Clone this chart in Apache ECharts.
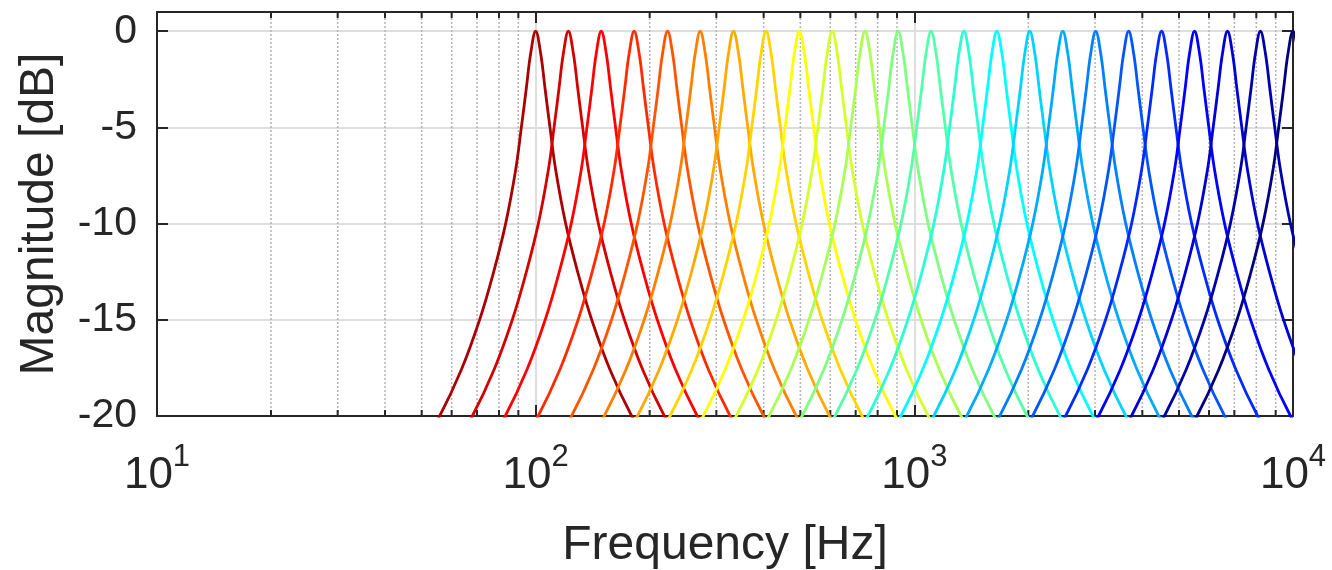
<!DOCTYPE html>
<html>
<head>
<meta charset="utf-8">
<script src="https://cdn.jsdelivr.net/npm/echarts@6/dist/echarts.min.js"></script>
<style>
html,body{margin:0;padding:0;background:#fff;}
#chart{width:1332px;height:570px;}
</style>
</head>
<body>
<div id="chart"></div>
<script>
// ---- data ----
// centre frequencies of the 24 band-pass filters [Hz]
const centerFreqs = [100, 122, 149, 182, 223, 272, 333, 406, 497, 607, 741, 906,
                     1107, 1352, 1652, 2018, 2466, 3013, 3681, 4498, 5495, 6714, 8203, 10000];
// measured filter shape: frequency ratio away from the centre -> magnitude [dB]
const profileRatio = [1, 1.0309, 1.0583, 1.0909, 1.1293, 1.2003, 1.2966, 1.4060, 1.5715, 1.7930, 2.138];
const profileDb    = [0, -1.16, -2.95, -5.0, -7.2, -10.0, -12.65, -15.0, -17.6, -20.0, -22.6];
// axis ticks
const xMajorTicks = [10, 100, 1000, 10000];
const xMinorTicks = [20, 30, 40, 50, 60, 70, 80, 90,
                     200, 300, 400, 500, 600, 700, 800, 900,
                     2000, 3000, 4000, 5000, 6000, 7000, 8000, 9000];
const yTicks = [0, -5, -10, -15, -20];
const Y_MIN = -20, Y_MAX = 1;

// ---- styles ----
const colors = ['#aa0000', '#d40000', '#ff0000', '#ff2a00', '#ff5500', '#ff8000', '#ffaa00', '#ffd400',
                '#ffff00', '#d4ff2a', '#aaff55', '#80ff80', '#55ffaa', '#2affd4', '#00ffff', '#00d4ff',
                '#00aaff', '#0080ff', '#0055ff', '#002aff', '#0000ff', '#0000d4', '#0000aa', '#000080'];
const FONT = '"Liberation Sans", Arial, Helvetica, sans-serif';
const INK = '#262626';

function curveData(fc) {
  const pts = [];
  for (let i = profileRatio.length - 1; i >= 1; i--) pts.push([fc / profileRatio[i], profileDb[i]]);
  pts.push([fc, profileDb[0]]);
  for (let i = 1; i < profileRatio.length; i++) pts.push([fc * profileRatio[i], profileDb[i]]);
  return pts;
}

const series = [];
// minor (dotted) grid lines and minor ticks on the bottom/top edges
series.push({
  type: 'custom', xAxisIndex: 0, yAxisIndex: 0, z: 1, silent: true, clip: false,
  data: xMinorTicks.map(f => [f, Y_MIN]),
  encode: {x: 0, y: 1},
  renderItem: function (params, api) {
    const f = api.value(0);
    const b = api.coord([f, Y_MIN]);
    const t = api.coord([f, Y_MAX]);
    return {type: 'group', children: [
      {type: 'line', shape: {x1: b[0], y1: b[1], x2: t[0], y2: t[1]},
       style: {stroke: '#b4b4b4', lineWidth: 1.5, lineDash: [2, 2]}},
      {type: 'line', shape: {x1: b[0], y1: b[1], x2: b[0], y2: b[1] - 6},
       style: {stroke: INK, lineWidth: 2}},
      {type: 'line', shape: {x1: t[0], y1: t[1], x2: t[0], y2: t[1] + 6},
       style: {stroke: INK, lineWidth: 2}}
    ]};
  }
});
centerFreqs.forEach((fc, i) => {
  series.push({
    type: 'line', name: String(fc), data: curveData(fc), z: 2,
    showSymbol: false, smooth: 0.4, clip: true,
    lineStyle: {color: colors[i], width: 2.8}, itemStyle: {color: colors[i]},
    silent: true
  });
});

const axisLine = {show: true, onZero: false, lineStyle: {color: INK, width: 2}};
const option = {
  animation: false,
  backgroundColor: '#ffffff',
  textStyle: {fontFamily: FONT},
  grid: {left: 157, right: 39, top: 12, bottom: 154, containLabel: false, outerBoundsMode: 'none'},
  xAxis: [
    {
      type: 'log', logBase: 10, min: xMajorTicks[0], max: xMajorTicks[xMajorTicks.length - 1],
      position: 'bottom', name: 'Frequency [Hz]', nameLocation: 'middle', nameGap: 106,
      nameTextStyle: {fontSize: 48, color: INK, fontFamily: FONT},
      axisLine: axisLine,
      axisTick: {show: true, inside: true, length: 11, lineStyle: {color: INK, width: 2}},
      axisLabel: {
        margin: 26, color: INK, fontFamily: FONT,
        formatter: function (v) { return '{b|10}{s|' + Math.round(Math.log10(v)) + '}'; },
        rich: {
          b: {fontSize: 44, verticalAlign: 'bottom', color: INK, fontFamily: FONT},
          s: {fontSize: 31, lineHeight: 56, verticalAlign: 'top', color: INK, fontFamily: FONT}
        }
      },
      splitLine: {show: true, lineStyle: {color: '#dedede', width: 2}}
    },
    {
      type: 'log', logBase: 10, min: xMajorTicks[0], max: xMajorTicks[xMajorTicks.length - 1],
      position: 'top',
      axisLine: axisLine,
      axisTick: {show: true, inside: true, length: 11, lineStyle: {color: INK, width: 2}},
      axisLabel: {show: false},
      splitLine: {show: false}
    }
  ],
  yAxis: [
    {
      type: 'value', min: Y_MIN, max: Y_MAX, interval: 5, position: 'left',
      name: 'Magnitude [dB]', nameLocation: 'middle', nameGap: 93,
      nameTextStyle: {fontSize: 48, color: INK, fontFamily: FONT},
      axisLine: axisLine,
      axisTick: {show: true, inside: true, length: 11, lineStyle: {color: INK, width: 2}},
      axisLabel: {
        margin: 20, fontSize: 41, color: INK, fontFamily: FONT,
        formatter: function (v) { return yTicks.indexOf(v) >= 0 ? String(v) : ''; }
      },
      splitLine: {show: true, lineStyle: {color: '#dedede', width: 2}}
    },
    {
      type: 'value', min: Y_MIN, max: Y_MAX, interval: 5, position: 'right',
      axisLine: axisLine,
      axisTick: {show: true, inside: true, length: 11, lineStyle: {color: INK, width: 2}},
      axisLabel: {show: false},
      splitLine: {show: false}
    }
  ],
  series: series
};

const chart = echarts.init(document.getElementById('chart'), null, {renderer: 'canvas'});
chart.setOption(option);
</script>
</body>
</html>
